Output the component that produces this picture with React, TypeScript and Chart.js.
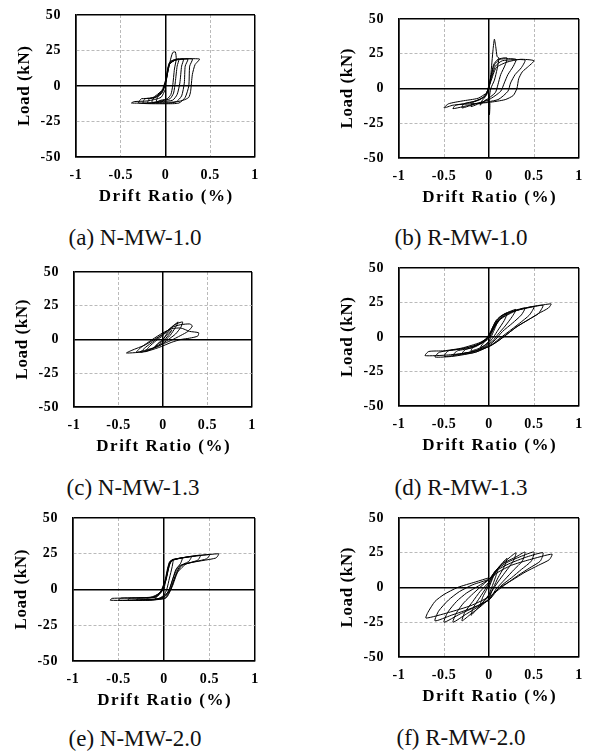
import React, { useEffect, useRef } from 'react';
import { Chart, registerables } from 'chart.js';

Chart.register(...registerables);

// ---- axis ticks & titles ----
const xTicks = [-1, -0.5, 0, 0.5, 1];
const yTicks = [-50, -25, 0, 25, 50];
const xTitle = 'Drift Ratio (%)';
const yTitle = 'Load (kN)';

// ---- hysteresis data: [drift ratio (%), load (kN)] ----
const loopNMW10: [number, number][] = [
  [0, 0], [0.02, 8], [0.05, 17], [0.08, 23.5], [0.11, 24], [0.12, 19], [0.1, 12], [0.08, 0], [0.06, -6], [0.02, -9], [-0.05, -10], [-0.1, -11], [-0.09, -8], [-0.04, -5], [-0.01, 0],
  [0.02, 9], [0.05, 17], [0.1, 18.5], [0.15, 19], [0.13, 14], [0.11, 3], [0.09, -5], [0.05, -9], [-0.05, -10.5], [-0.15, -11.5], [-0.14, -9], [-0.08, -7], [-0.02, -2],
  [0.01, 6], [0.04, 16], [0.1, 18.5], [0.2, 19], [0.18, 14], [0.16, 2], [0.13, -6], [0.08, -10], [-0.05, -11], [-0.2, -12], [-0.18, -9], [-0.1, -7.5], [-0.03, -3],
  [0.01, 5], [0.04, 15], [0.1, 18], [0.25, 19], [0.22, 14], [0.21, 2], [0.18, -7], [0.12, -11], [-0.05, -11.5], [-0.25, -12], [-0.23, -9], [-0.12, -8], [-0.03, -3],
  [0.01, 5], [0.05, 16], [0.12, 18.5], [0.3, 19], [0.27, 14], [0.26, 0], [0.22, -8], [0.15, -12], [0, -12.5], [-0.3, -12], [-0.27, -9], [-0.15, -8.5], [-0.04, -3],
  [0, 4], [0.04, 15], [0.12, 18.5], [0.38, 19], [0.33, 15], [0.3, 8], [0.28, -4], [0.26, -8], [0.2, -10], [0.05, -12], [-0.2, -12], [-0.38, -12], [-0.35, -11], [-0.2, -10.5], [-0.05, -8], [0, -2],
];

const loopRMW10: [number, number][] = [
  [0, 0], [0.02, 10], [0.045, 28], [0.06, 35.5], [0.075, 30], [0.09, 23], [0.11, 22], [0.09, 14], [0.06, 6], [0.02, 0], [0.005, -6], [0, -13], [0.005, -19], [0.008, -10], [-0.03, -8], [-0.1, -12], [-0.08, -9], [-0.03, -5], [0, 0],
  [0.02, 8], [0.05, 17], [0.1, 21], [0.2, 22], [0.18, 17], [0.13, 10], [0.1, 3], [0.07, -3], [-0.05, -9], [-0.2, -13], [-0.18, -10], [-0.1, -8], [-0.03, -4],
  [0.02, 8], [0.06, 17], [0.12, 21], [0.3, 21], [0.27, 16], [0.21, 10], [0.17, 4], [0.13, -2], [0, -8], [-0.15, -11], [-0.3, -14], [-0.28, -11], [-0.15, -9], [-0.04, -5],
  [0.02, 6], [0.07, 16], [0.15, 20], [0.4, 20.5], [0.36, 15], [0.29, 10], [0.24, 4], [0.21, -2], [0.1, -8], [-0.15, -11], [-0.4, -14.5], [-0.37, -12], [-0.2, -10], [-0.05, -6],
  [0.02, 5], [0.08, 15], [0.2, 19], [0.35, 21], [0.5, 20], [0.44, 16], [0.37, 12], [0.33, 7], [0.31, 0], [0.27, -5], [0.18, -8], [0, -10], [-0.2, -11], [-0.4, -12], [-0.5, -14], [-0.45, -11], [-0.3, -9], [-0.12, -7], [-0.02, -3],
];

const loopNMW13: [number, number][] = [
  [0, 0], [0.05, 4], [0.1, 7], [0.07, 4], [0.02, 0], [-0.05, -3], [-0.1, -6], [-0.06, -3], [0, 0],
  [0.05, 5], [0.1, 9], [0.17, 13], [0.14, 9], [0.08, 3], [0, -2], [-0.1, -6], [-0.2, -9], [-0.15, -5], [-0.08, -1], [0, 3],
  [0.06, 7], [0.13, 11], [0.22, 13], [0.2, 9], [0.14, 4], [0.06, 0], [-0.05, -5], [-0.25, -9.5], [-0.2, -6], [-0.1, -1], [0, 4],
  [0.1, 9], [0.2, 11], [0.3, 11.5], [0.33, 10], [0.28, 6], [0.2, 3], [0.08, -1], [-0.1, -6], [-0.3, -9.5], [-0.25, -6], [-0.12, 0], [0, 5],
  [0.1, 8], [0.2, 8.5], [0.3, 6], [0.4, 5], [0.39, 2.5], [0.3, 1], [0.2, 0], [0.1, -2], [-0.05, -6], [-0.2, -9], [-0.41, -10], [-0.35, -8], [-0.2, -4], [-0.05, 2], [0.05, 6],
];

const loopRMW13: [number, number][] = [
  [0, 0], [0.04, 7], [0.1, 12], [0.07, 7], [0.03, 1], [0, -3], [-0.05, -6], [-0.1, -8], [-0.07, -5], [-0.03, -2],
  [0.02, 4], [0.07, 11], [0.13, 15], [0.2, 17], [0.17, 12], [0.1, 5], [0.05, 0], [0, -4], [-0.1, -8], [-0.2, -10], [-0.17, -7], [-0.1, -5], [-0.03, -1],
  [0.03, 5], [0.08, 12], [0.15, 16], [0.3, 20], [0.26, 15], [0.18, 8], [0.1, 2], [0.04, -3], [-0.05, -7], [-0.15, -10], [-0.3, -12], [-0.26, -9], [-0.15, -7], [-0.05, -3],
  [0.03, 4], [0.09, 12], [0.18, 17], [0.3, 19.5], [0.4, 21], [0.36, 16], [0.26, 10], [0.15, 4], [0.07, -2], [0, -6], [-0.15, -10], [-0.3, -12], [-0.4, -13], [-0.35, -10], [-0.2, -8], [-0.05, -3],
  [0.03, 4], [0.1, 12], [0.2, 17], [0.35, 20], [0.5, 22], [0.45, 16], [0.34, 10], [0.2, 3], [0.1, -2], [0.02, -6], [-0.15, -11], [-0.35, -13], [-0.5, -14], [-0.45, -10], [-0.28, -8.5], [-0.1, -5], [0, -1],
  [0.05, 6], [0.12, 13], [0.25, 18], [0.4, 21], [0.6, 23], [0.55, 17], [0.45, 13], [0.3, 7], [0.18, 1], [0.05, -5], [-0.15, -11], [-0.4, -14], [-0.6, -14.5], [-0.55, -11], [-0.35, -9], [-0.15, -6], [-0.02, -1],
  [0.05, 6], [0.13, 13], [0.3, 19], [0.5, 22], [0.69, 24], [0.66, 21], [0.55, 17], [0.45, 13], [0.32, 8], [0.2, 2], [0.1, -3], [0, -7], [-0.2, -11], [-0.45, -13], [-0.71, -13.5], [-0.67, -10.5], [-0.5, -10], [-0.3, -8], [-0.1, -4], [0, 0],
];

const loopNMW20: [number, number][] = [
  [0, 0], [0.03, 10], [0.06, 19], [0.1, 21], [0.09, 16], [0.06, 8], [0.03, 0], [0, -4], [-0.05, -6], [-0.1, -7], [-0.08, -5], [-0.04, -2],
  [0.01, 6], [0.04, 15], [0.07, 20], [0.2, 22], [0.18, 18], [0.13, 14], [0.09, 6], [0.05, -1], [0, -5], [-0.08, -7], [-0.2, -7.5], [-0.18, -6], [-0.08, -5], [-0.03, -2],
  [0.01, 5], [0.05, 15], [0.08, 20], [0.3, 23], [0.27, 19.5], [0.16, 16], [0.1, 8], [0.06, 0], [0, -5], [-0.1, -7], [-0.3, -7.5], [-0.28, -6], [-0.1, -5], [-0.03, -1],
  [0.02, 7], [0.05, 16], [0.09, 20.5], [0.4, 24], [0.37, 20.5], [0.18, 16.5], [0.12, 9], [0.07, 0], [0, -5.5], [-0.15, -7], [-0.4, -7.5], [-0.37, -6], [-0.12, -5.5], [-0.03, -1],
  [0.02, 6], [0.06, 17], [0.1, 21], [0.5, 24.5], [0.47, 21.5], [0.2, 17], [0.13, 10], [0.08, 1], [0.01, -6], [-0.2, -7], [-0.5, -7.5], [-0.47, -6], [-0.15, -5.5], [-0.04, -2],
  [0.02, 7], [0.06, 18], [0.1, 21], [0.6, 25], [0.57, 22], [0.25, 18], [0.15, 12], [0.09, 2], [0.02, -6], [-0.2, -7.5], [-0.59, -7.5], [-0.57, -6.2], [-0.3, -6], [-0.1, -5.5], [-0.04, -2], [0, 0],
];

const loopRMW20: [number, number][] = [
  [0, 0], [0.05, 8], [0.1, 13], [0.07, 7], [0.03, 0], [0, -5], [-0.05, -9], [-0.1, -13], [-0.07, -7], [-0.03, -2],
  [0.03, 6], [0.1, 14], [0.2, 21], [0.17, 15], [0.1, 7], [0.05, 0], [0, -6], [-0.1, -13], [-0.2, -20], [-0.17, -14], [-0.1, -7], [-0.03, 0],
  [0.02, 6], [0.1, 14], [0.2, 20], [0.3, 25], [0.27, 19], [0.18, 11], [0.1, 4], [0.03, -3], [0, -8], [-0.1, -14], [-0.2, -19], [-0.3, -24], [-0.27, -18], [-0.18, -10], [-0.1, -3], [0, 4],
  [0.05, 10], [0.15, 17], [0.3, 22], [0.4, 25.5], [0.37, 19], [0.28, 13], [0.18, 6], [0.08, -1], [0.01, -8], [-0.1, -13], [-0.25, -19], [-0.4, -25], [-0.36, -18], [-0.28, -11], [-0.17, -4], [-0.05, 3], [0.02, 7],
  [0.07, 12], [0.2, 18], [0.38, 23], [0.5, 25.5], [0.47, 19], [0.36, 13], [0.25, 7], [0.13, 1], [0.03, -6], [0, -9], [-0.15, -14], [-0.32, -19], [-0.5, -25], [-0.46, -18], [-0.36, -10], [-0.25, -4], [-0.12, 1], [0, 6],
  [0.08, 12], [0.22, 17], [0.42, 22], [0.6, 25], [0.57, 19], [0.45, 14], [0.33, 9], [0.2, 3], [0.08, -3], [0, -9], [-0.2, -15], [-0.42, -20], [-0.6, -24], [-0.56, -17], [-0.45, -9], [-0.33, -3], [-0.18, 2], [0, 6],
  [0.1, 11], [0.25, 16], [0.45, 20], [0.7, 24], [0.67, 20], [0.55, 16], [0.4, 11], [0.25, 5], [0.12, 0], [0.02, -6], [-0.2, -13], [-0.45, -18], [-0.7, -22], [-0.68, -18], [-0.6, -10], [-0.5, -5], [-0.35, 0], [-0.15, 4], [0, 7],
];

const captions = ['(a) N-MW-1.0', '(b) R-MW-1.0', '(c) N-MW-1.3', '(d) R-MW-1.3', '(e) N-MW-2.0', '(f) R-MW-2.0'];
const series = [loopNMW10, loopRMW10, loopNMW13, loopRMW13, loopNMW20, loopRMW20];

// ---- layout (plot-area rectangles and caption centres) ----
const layouts = [
  { l: 76, t: 15, r: 255, b: 157, cx: 135, cy: 238 },
  { l: 399, t: 19, r: 579, b: 158, cx: 461, cy: 238 },
  { l: 74, t: 272, r: 252, b: 407, cx: 133, cy: 488 },
  { l: 399, t: 268, r: 579, b: 406, cx: 461, cy: 488 },
  { l: 73, t: 518, r: 255, b: 661, cx: 135, cy: 739 },
  { l: 399, t: 518, r: 579, b: 657, cx: 461, cy: 738 },
];

const FONT = "'Liberation Serif', 'Times New Roman', serif";
const Y_AXIS_W = 70;
const X_AXIS_H = 55;
const PAD = 10;

// letter spacing for tick labels (the source figure has widened lettering)
const spacingPlugin = {
  id: 'letterSpacing',
  beforeDraw(chart: any) {
    chart.ctx.letterSpacing = '0.6px';
  },
  afterDraw(chart: any) {
    chart.ctx.letterSpacing = '0px';
  },
};

// axis titles with explicit spacing and exact centring on the plot area
const axisTitlePlugin = {
  id: 'axisTitles',
  afterDraw(chart: any) {
    const ctx = chart.ctx;
    const a = chart.chartArea;
    ctx.save();
    ctx.font = `bold 17px ${FONT}`;
    ctx.fillStyle = '#000';
    ctx.textBaseline = 'middle';
    ctx.textAlign = 'left';
    const sx = 1.5;
    ctx.letterSpacing = '0px';
    const wx = ctx.measureText(xTitle).width + (xTitle.length - 1) * sx;
    ctx.letterSpacing = `${sx}px`;
    ctx.fillText(xTitle, (a.left + a.right) / 2 - wx / 2, a.bottom + 40);
    const sy = 0.6;
    ctx.letterSpacing = '0px';
    const wy = ctx.measureText(yTitle).width + (yTitle.length - 1) * sy;
    ctx.translate(a.left - 51, (a.top + a.bottom) / 2);
    ctx.rotate(-Math.PI / 2);
    ctx.letterSpacing = `${sy}px`;
    ctx.fillText(yTitle, -wy / 2, 0);
    ctx.restore();
  },
};

function isSolid(v: number, edge: number) {
  return v === 0 || Math.abs(v) === edge;
}

function Panel({ idx }: { idx: number }) {
  const ref = useRef<HTMLCanvasElement>(null);
  const lay = layouts[idx];
  const W = lay.r - lay.l + Y_AXIS_W + PAD;
  const H = lay.b - lay.t + X_AXIS_H + PAD;

  useEffect(() => {
    if (!ref.current) return;
    const pts = series[idx].map(([x, y]) => ({ x, y }));
    const tickFont = { family: FONT, size: 14, weight: 'bold' as const };
    const chart = new Chart(ref.current, {
      type: 'scatter',
      data: {
        datasets: [
          {
            data: pts,
            showLine: true,
            borderColor: '#000',
            borderWidth: 1,
            pointRadius: 0,
            tension: 0.2,
            fill: false,
          },
        ],
      },
      options: {
        animation: false,
        responsive: false,
        maintainAspectRatio: false,
        events: [],
        layout: { padding: { left: 0, top: PAD, right: PAD, bottom: 0 } },
        plugins: { legend: { display: false }, tooltip: { enabled: false } },
        scales: {
          x: {
            type: 'linear',
            min: -1,
            max: 1,
            afterBuildTicks: (s: any) => {
              s.ticks = xTicks.map((v) => ({ value: v }));
            },
            afterFit: (s: any) => {
              s.height = X_AXIS_H;
              s.paddingLeft = 0;
              s.paddingRight = 6;
            },
            ticks: { font: tickFont, color: '#000', padding: 10, callback: (v: any) => String(v) },
            grid: {
              drawTicks: false,
              color: (c: any) => (c.tick && isSolid(c.tick.value, 1) ? '#000' : '#a8a8a8'),
              lineWidth: (c: any) => (c.tick && isSolid(c.tick.value, 1) ? 1.5 : 0.8),
            },
            border: {
              display: true,
              color: '#000',
              width: 1.5,
              dash: (c: any) => (c.tick && isSolid(c.tick.value, 1) ? [] : [3, 2]),
            },
            title: { display: false },
          },
          y: {
            type: 'linear',
            min: -50,
            max: 50,
            afterBuildTicks: (s: any) => {
              s.ticks = yTicks.map((v) => ({ value: v }));
            },
            afterFit: (s: any) => {
              s.width = Y_AXIS_W;
              s.paddingTop = 8;
              s.paddingBottom = 8;
            },
            ticks: { font: tickFont, color: '#000', padding: 15, callback: (v: any) => String(v) },
            grid: {
              drawTicks: false,
              color: (c: any) => (c.tick && isSolid(c.tick.value, 50) ? '#000' : '#a8a8a8'),
              lineWidth: (c: any) => (c.tick && isSolid(c.tick.value, 50) ? 1.5 : 0.8),
            },
            border: {
              display: true,
              color: '#000',
              width: 1.5,
              dash: (c: any) => (c.tick && isSolid(c.tick.value, 50) ? [] : [3, 2]),
            },
            title: { display: false },
          },
        },
      } as any,
      plugins: [spacingPlugin, axisTitlePlugin],
    });
    return () => chart.destroy();
  }, [idx]);

  return (
    <>
      <canvas
        ref={ref}
        width={W}
        height={H}
        style={{ position: 'absolute', left: lay.l - Y_AXIS_W, top: lay.t - PAD, width: W, height: H }}
      />
      <div
        style={{
          position: 'absolute',
          left: lay.cx - 110,
          top: lay.cy - 14,
          width: 220,
          height: 28,
          lineHeight: '28px',
          textAlign: 'center',
          fontFamily: FONT,
          fontSize: 23,
          color: '#111',
          whiteSpace: 'nowrap',
        }}
      >
        {captions[idx]}
      </div>
    </>
  );
}

export default function App() {
  return (
    <div style={{ position: 'absolute', left: 0, top: 0, width: 592, height: 751, background: '#fff', overflow: 'hidden' }}>
      {layouts.map((_, i) => (
        <Panel key={i} idx={i} />
      ))}
    </div>
  );
}
